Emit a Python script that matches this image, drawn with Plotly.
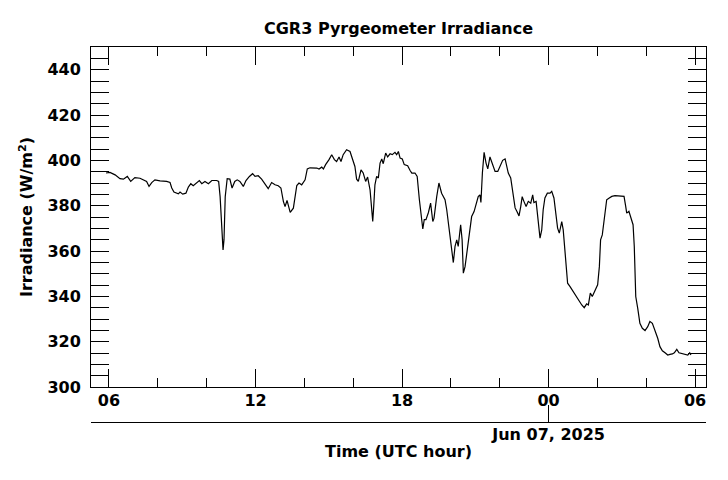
import pandas as pd
import plotly.graph_objects as go

# Hours since 2025-06-06 00:00 UTC
hours = [5.88, 6.04, 6.25, 6.45, 6.59, 6.75, 6.89, 7.06, 7.27, 7.40, 7.54, 7.64, 7.75, 7.88, 8.09, 8.36,
         8.50, 8.57, 8.66, 8.84, 8.91, 9.02, 9.15, 9.25, 9.35, 9.45, 9.59, 9.70, 9.80, 9.93, 10.07, 10.21,
         10.41, 10.49, 10.55, 10.63, 10.67, 10.71, 10.76, 10.84, 10.95, 11.04, 11.15, 11.25, 11.36, 11.50,
         11.61, 11.75, 11.88, 11.98, 12.11, 12.25, 12.39, 12.52, 12.66, 12.80, 12.93, 13.04, 13.14, 13.21,
         13.29, 13.34, 13.42, 13.55, 13.62, 13.69, 13.78, 13.89, 14.03, 14.12, 14.23, 14.37, 14.51, 14.60,
         14.71, 14.78, 14.87, 15.01, 15.12, 15.23, 15.32, 15.42, 15.50, 15.59, 15.73, 15.87, 15.94, 16.02,
         16.07, 16.14, 16.21, 16.32, 16.41, 16.51, 16.59, 16.69, 16.76, 16.80, 16.84, 16.89, 16.96, 17.03,
         17.10, 17.17, 17.23, 17.33, 17.41, 17.51, 17.60, 17.71, 17.78, 17.85, 17.92, 18.01, 18.09, 18.23,
         18.33, 18.40, 18.53, 18.62, 18.71, 18.78, 18.85, 18.91, 18.98, 19.08, 19.17, 19.26, 19.31, 19.42,
         19.51, 19.62, 19.76, 19.83, 19.94, 20.03, 20.10, 20.17, 20.24, 20.30, 20.40, 20.46, 20.51, 20.58,
         20.67, 20.78, 20.85, 20.95, 21.03, 21.12, 21.19, 21.23, 21.29, 21.36, 21.44, 21.51, 21.60, 21.71,
         21.81, 21.92, 22.01, 22.12, 22.22, 22.29, 22.35, 22.45, 22.56, 22.63, 22.70, 22.79, 22.86, 22.92,
         22.99, 23.08, 23.17, 23.27, 23.35, 23.40, 23.49, 23.58, 23.65, 23.72, 23.78, 23.85, 23.95, 24.06,
         24.13, 24.22, 24.30, 24.37, 24.44, 24.54, 24.60, 24.67, 24.78, 24.88, 24.97, 25.08, 25.22, 25.36,
         25.46, 25.56, 25.63, 25.71, 25.79, 25.90, 26.01, 26.08, 26.13, 26.20, 26.28, 26.38, 26.47, 26.59,
         26.72, 26.86, 26.99, 27.09, 27.16, 27.20, 27.29, 27.38, 27.46, 27.51, 27.57, 27.65, 27.74, 27.84,
         27.95, 28.06, 28.15, 28.25, 28.36, 28.47, 28.56, 28.66, 28.77, 28.88, 28.97, 29.07, 29.15, 29.25,
         29.34, 29.45, 29.59, 29.70, 29.78, 29.83]

# Irradiance (W/m^2)
irradiance = [394.4, 394.7, 393.6, 391.9, 391.7, 392.9, 390.7, 392.4, 392.1, 391.4, 390.7, 388.5, 390.2, 391.4,
              390.9, 390.7, 390.2, 387.8, 386.0, 385.2, 386.0, 385.1, 385.5, 388.2, 389.7, 388.8, 390.2, 391.1,
              389.7, 390.7, 389.7, 391.1, 391.1, 390.7, 384.0, 365.0, 360.5, 365.0, 384.0, 391.9, 391.7, 387.8,
              390.7, 391.4, 390.7, 388.5, 391.1, 392.9, 394.1, 392.9, 393.2, 391.7, 389.2, 387.5, 390.2, 389.2,
              388.8, 387.8, 381.9, 379.6, 382.3, 380.4, 377.0, 378.9, 384.8, 388.9, 390.0, 389.2, 391.4, 396.2,
              396.7, 396.6, 396.6, 396.2, 397.0, 396.2, 398.1, 400.3, 402.5, 400.3, 399.5, 401.5, 399.5, 402.5,
              404.7, 403.9, 401.5, 398.5, 397.3, 391.7, 390.7, 395.8, 394.4, 390.7, 392.6, 387.0, 379.6, 373.0,
              379.6, 389.2, 392.9, 392.2, 398.8, 400.6, 398.5, 403.2, 401.5, 402.9, 402.5, 403.5, 402.5, 403.9,
              401.0, 400.6, 398.1, 397.6, 395.5, 394.4, 394.4, 392.9, 382.6, 374.5, 369.7, 373.8, 373.8, 377.0,
              381.1, 373.0, 374.5, 384.0, 390.0, 385.5, 382.6, 378.2, 367.9, 359.1, 354.9, 362.0, 364.9, 362.0,
              371.6, 364.9, 350.2, 353.1, 360.5, 369.3, 375.2, 377.4, 381.1, 384.0, 384.8, 381.4, 394.4, 403.5,
              398.8, 396.2, 401.5, 398.1, 395.1, 395.1, 397.0, 400.0, 400.6, 397.3, 394.4, 392.2, 383.4, 379.0,
              377.5, 375.5, 379.6, 384.0, 381.9, 379.6, 381.9, 381.1, 384.8, 381.4, 381.9, 372.3, 365.7, 369.3,
              378.2, 383.4, 385.5, 385.5, 386.3, 383.4, 376.7, 370.1, 367.9, 373.0, 369.3, 359.1, 345.8, 344.3,
              342.8, 340.6, 338.4, 336.2, 335.0, 336.7, 336.2, 341.4, 339.9, 342.8, 345.1, 353.1, 364.9, 367.1,
              374.5, 382.6, 383.3, 384.1, 384.4, 384.4, 384.1, 384.1, 379.6, 376.7, 377.5, 373.8, 371.6, 362.0,
              339.9, 334.8, 328.1, 325.9, 324.9, 326.6, 328.9, 328.1, 325.2, 321.5, 317.8, 316.0, 315.1, 314.1,
              314.4, 314.6, 315.1, 316.6, 315.1, 314.8, 314.6, 314.1, 315.1, 314.1]

x_range = ["2025-06-06 05:15:48", "2025-06-07 06:26:48"]
date_tick = ["2025-06-07 00:00"]
date_label = ["Jun 07, 2025"]
title_text = "CGR3 Pyrgeometer Irradiance"
x_title = "Time (UTC hour)"
y_title = "Irradiance (W/m<sup>2</sup>)"

times = pd.Timestamp("2025-06-06") + pd.to_timedelta(hours, unit="h")

fig = go.Figure()
fig.add_trace(go.Scatter(x=times, y=irradiance, mode="lines",
                         line=dict(color="black", width=1.2), showlegend=False, hoverinfo="skip"))
fig.add_trace(go.Scatter(x=[times[0]], y=[None], xaxis="x2", yaxis="y", mode="lines",
                         showlegend=False, hoverinfo="skip"))

FONT = "DejaVu Sans"
SIZE = 16
bold = dict(family=FONT, size=SIZE, color="black", weight="bold")
axis_common = dict(showline=True, linecolor="black", linewidth=1, showgrid=False, zeroline=False,
                   tickcolor="black", tickwidth=1, automargin=False, tickfont=bold)

# The page body adds an 8 px offset, so the figure is 720x472 and margins are shifted to match.
fig.update_layout(
    width=720, height=472, autosize=False,
    paper_bgcolor="white", plot_bgcolor="white",
    margin=dict(l=83, r=22, t=39, b=58, autoexpand=False),
    font=dict(family=FONT, color="black", weight="bold"),
    title=dict(text=title_text, x=0.5, xref="paper", xanchor="center",
               y=1 - 20 / 472, yref="container", yanchor="middle", automargin=False, font=bold),
    xaxis=dict(type="date", range=x_range, anchor="y", tick0="2025-06-06 00:00", dtick=6 * 3600000,
               tickformat="%H", ticks="inside", ticklen=18, mirror="allticks", ticklabelstandoff=-1,
               minor=dict(dtick=2 * 3600000, tick0="2025-06-06 00:00", ticks="inside", ticklen=9,
                          tickcolor="black", tickwidth=1, showgrid=False),
               **axis_common),
    xaxis2=dict(type="date", range=x_range, overlaying="x", anchor="free", position=0, side="bottom",
                tickvals=date_tick, ticktext=date_label, ticks="inside", ticklen=17,
                ticklabelstandoff=-2,
                title=dict(text=x_title, standoff=2, font=bold),
                **axis_common),
    yaxis=dict(domain=[35 / 375, 1], range=[300, 450], tick0=300, dtick=20, ticks="inside", ticklen=18,
               mirror="allticks", ticklabelstandoff=6,
               minor=dict(dtick=5, tick0=300, ticks="inside", ticklen=10, tickcolor="black",
                          tickwidth=1, showgrid=False),
               title=dict(text=y_title, standoff=10, font=bold),
               **axis_common),
)

fig.write_html("out.html")
